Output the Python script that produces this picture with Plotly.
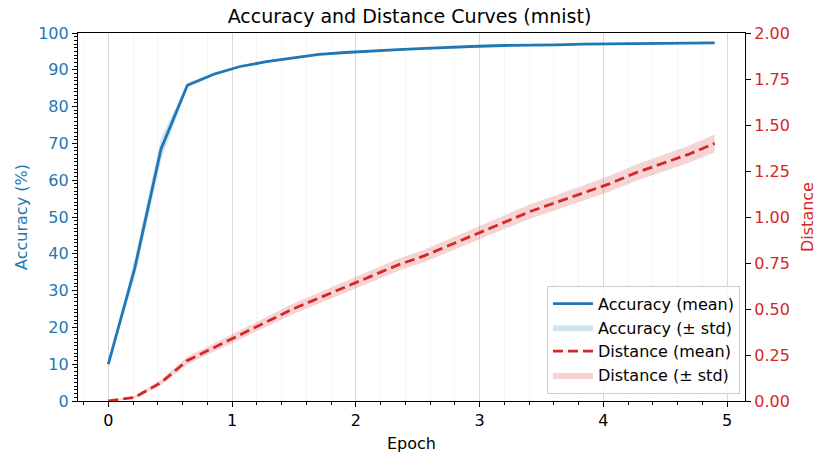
import plotly.graph_objects as go

epochs = [0.000, 0.213, 0.426, 0.639, 0.852, 1.065, 1.278, 1.491, 1.704, 1.917, 2.130, 2.343,
          2.557, 2.770, 2.983, 3.196, 3.409, 3.622, 3.835, 4.048, 4.261, 4.474, 4.687, 4.900]
acc_mean = [10.0, 36.0, 68.5, 85.8, 88.8, 90.9, 92.2, 93.3, 94.2, 94.7, 95.2, 95.5,
            95.8, 96.2, 96.4, 96.6, 96.6, 96.8, 97.0, 97.1, 97.2, 97.3, 97.3, 97.3]
acc_std = [0.3, 2.5, 3.0, 0.6, 0.4, 0.3, 0.3, 0.3, 0.2, 0.2, 0.2, 0.2,
           0.2, 0.2, 0.2, 0.2, 0.2, 0.2, 0.2, 0.2, 0.2, 0.2, 0.2, 0.2]
dist_mean = [0.00, 0.02, 0.10, 0.22, 0.29, 0.36, 0.43, 0.50, 0.56, 0.62, 0.68, 0.74,
             0.79, 0.85, 0.91, 0.97, 1.03, 1.08, 1.13, 1.18, 1.24, 1.29, 1.34, 1.40]
dist_std = [0.002, 0.008, 0.015, 0.020, 0.022, 0.024, 0.026, 0.028, 0.029, 0.030, 0.031, 0.033,
            0.034, 0.035, 0.036, 0.037, 0.039, 0.040, 0.041, 0.043, 0.044, 0.045, 0.046, 0.048]

BLUE = "#1f77b4"
RED = "#d62728"
FONT = "DejaVu Sans"

fig = go.Figure()

acc_hi = [m + s for m, s in zip(acc_mean, acc_std)]
acc_lo = [m - s for m, s in zip(acc_mean, acc_std)]
dist_hi = [m + s for m, s in zip(dist_mean, dist_std)]
dist_lo = [m - s for m, s in zip(dist_mean, dist_std)]

fig.add_trace(go.Scatter(x=epochs + epochs[::-1], y=acc_hi + acc_lo[::-1], fill="toself",
                         fillcolor="rgba(31,119,180,0.2)", line=dict(width=0),
                         name="Accuracy (± std)", legendrank=2, hoverinfo="skip", yaxis="y"))
fig.add_trace(go.Scatter(x=epochs + epochs[::-1], y=dist_hi + dist_lo[::-1], fill="toself",
                         fillcolor="rgba(214,39,40,0.2)", line=dict(width=0),
                         name="Distance (± std)", legendrank=4, hoverinfo="skip", yaxis="y2"))
fig.add_trace(go.Scatter(x=epochs, y=acc_mean, mode="lines", line=dict(color=BLUE, width=2.8),
                         name="Accuracy (mean)", legendrank=1, yaxis="y"))
fig.add_trace(go.Scatter(x=epochs, y=dist_mean, mode="lines",
                         line=dict(color=RED, width=2.8, dash="10px,5px"),
                         name="Distance (mean)", legendrank=3, yaxis="y2"))

fig.update_layout(
    width=819, height=455,
    margin=dict(l=78, r=74, t=33, b=54),
    paper_bgcolor="white", plot_bgcolor="white",
    font=dict(family=FONT, size=16, color="black"),
    title=dict(text="Accuracy and Distance Curves (mnist)", x=0.5, xanchor="center",
               y=0.965, yanchor="middle", font=dict(size=19, family=FONT)),
    showlegend=True,
    legend=dict(x=0.9925, xanchor="right", y=0.02, yanchor="bottom",
                bgcolor="rgba(255,255,255,0.85)", bordercolor="#cccccc", borderwidth=1,
                font=dict(size=16, family=FONT), tracegroupgap=0, itemwidth=40),
    xaxis=dict(range=[-0.245, 5.145], dtick=1, tick0=0, showgrid=True, gridcolor="#d9d9d9",
               gridwidth=1.2, showline=True, linecolor="black", linewidth=1.2, mirror=True,
               ticks="outside", ticklen=5, tickcolor="black", zeroline=False, automargin=False,
               title=dict(text="Epoch", standoff=8, font=dict(size=16)),
               tickfont=dict(size=16),
               minor=dict(dtick=0.2, tick0=0, showgrid=True, gridcolor="#dcdcdc",
                          griddash="1px,3px", gridwidth=1,
                          ticks="outside", ticklen=3, tickcolor="black")),
    yaxis=dict(range=[0, 100], dtick=10, showgrid=False, zeroline=False, showline=True,
               linecolor="black", linewidth=1.2, ticks="outside", ticklen=5, tickcolor="black",
               automargin=False,
               tickfont=dict(color=BLUE, size=16),
               title=dict(text="Accuracy (%)", font=dict(color=BLUE, size=16), standoff=6),
               minor=dict(dtick=1, ticks="outside", ticklen=3, tickcolor="black",
                          tickwidth=1, showgrid=False)),
    yaxis2=dict(range=[0, 2], dtick=0.25, tickformat=".2f", overlaying="y", side="right",
                showgrid=False, zeroline=False, showline=True, linecolor="black", linewidth=1.2,
                ticks="outside", ticklen=5, tickcolor="black", automargin=False,
                tickfont=dict(color=RED, size=16),
                title=dict(text="Distance", font=dict(color=RED, size=16), standoff=12)),
)

fig.write_html("out.html")
